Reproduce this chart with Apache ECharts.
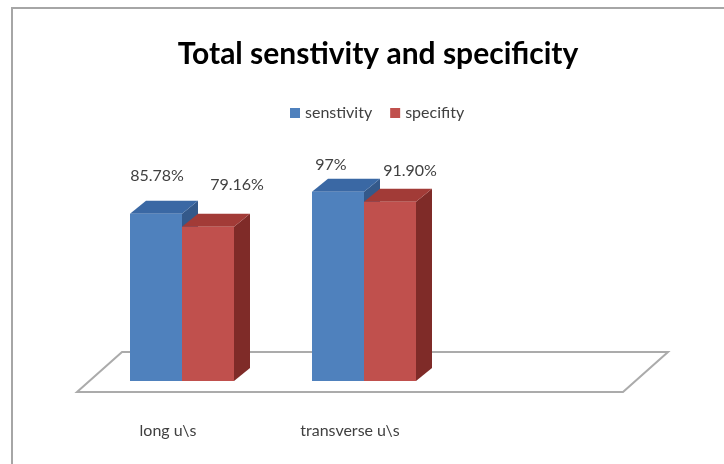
<!DOCTYPE html>
<html>
<head>
<meta charset="utf-8">
<script src="https://cdn.jsdelivr.net/npm/echarts@6/dist/echarts.min.js"></script>
<style>
  html, body { margin: 0; padding: 0; background: #fff; }
  #chart { width: 724px; height: 464px; }
</style>
</head>
<body>
<div id="chart"></div>
<script>
// Categories along the floor (third slot is left empty)
const categories = ['long u\\s', 'transverse u\\s', ''];
// Percentages as printed on the labels
const sensitivityText = ['85.78', '97'];
const specificityText = ['79.16', '91.90'];
const seriesNames = ['senstivity', 'specifity'];

// Label nudges (px) relative to the top-front centre of each bar
const labelNudge = [
  [[1, -38], [-7, -27]],
  [[29, -42], [20, -31]]
];

const FONT = "Lato, 'Open Sans', 'Liberation Sans', sans-serif";
const DEPTH_X = 16, DEPTH_Y = -13;
const faces = [
  { front: '#4F81BD', top: '#3A68A4', side: '#34598A' },
  { front: '#C0504D', top: '#A23B37', side: '#7F2B28' }
];

function barRenderer(si) {
  return function (params, api) {
    const cat = api.value(0);
    const val = api.value(1);
    const band = api.size([1, 0])[0];
    const w = band * 0.2857;
    const base = api.coord([cat, 0]);
    const top = api.coord([cat, val]);
    const x0 = base[0] + (si === 0 ? -w : 0);
    const x1 = x0 + w;
    const yb = base[1], yt = top[1];
    const c = faces[si];
    const nudge = labelNudge[si][params.dataIndex];
    const txt = (si === 0 ? sensitivityText : specificityText)[params.dataIndex] + '%';
    return {
      type: 'group',
      children: [
        { type: 'polygon', shape: { points: [[x1, yb], [x1 + DEPTH_X, yb + DEPTH_Y], [x1 + DEPTH_X, yt + DEPTH_Y], [x1, yt]] },
          style: { fill: c.side } },
        { type: 'polygon', shape: { points: [[x0, yt], [x0 + DEPTH_X, yt + DEPTH_Y], [x1 + DEPTH_X, yt + DEPTH_Y], [x1, yt]] },
          style: { fill: c.top } },
        { type: 'rect', shape: { x: x0, y: yt, width: w, height: yb - yt },
          style: { fill: c.front } },
        { type: 'text', x: (x0 + x1) / 2 + nudge[0], y: yt + nudge[1],
          style: { text: txt, fill: '#404040', font: '16px ' + FONT, align: 'center', verticalAlign: 'middle' } }
      ]
    };
  };
}

function floorRenderer(params, api) {
  const band = api.size([1, 0])[0];
  const first = api.coord([0, 0]);
  const last = api.coord([categories.length - 1, 0]);
  const L = first[0] - band / 2, R = last[0] + band / 2, y = first[1];
  return {
    type: 'polygon',
    shape: { points: [[L - 14, y + 11], [R - 14, y + 11], [R + 31, y - 29], [L + 31, y - 29]] },
    style: { fill: '#ffffff', stroke: '#ababab', lineWidth: 2 }
  };
}

const chart = echarts.init(document.getElementById('chart'), null, { renderer: 'canvas' });
chart.setOption({
  animation: false,
  backgroundColor: '#ffffff',
  title: {
    text: 'Total senstivity and specificity',
    left: 373, top: 34, textAlign: 'center',
    textStyle: { fontFamily: FONT, fontSize: 30, fontWeight: 'bold', color: '#000' }
  },
  legend: {
    data: seriesNames.map((n, i) => ({ name: n, icon: 'rect', itemStyle: { color: faces[i].front } })),
    left: 285, top: 100, itemWidth: 10, itemHeight: 10, itemGap: 18,
    textStyle: { fontFamily: FONT, fontSize: 16, color: '#404040' }
  },
  graphic: [
    { type: 'polyline', shape: { points: [[12, 464], [12, 8], [724, 8]] },
      style: { stroke: '#a6a6a6', lineWidth: 2, fill: null }, silent: true }
  ],
  grid: { left: 91, right: 87, top: 186, bottom: 83 },
  xAxis: {
    type: 'category', data: categories,
    axisLine: { show: false }, axisTick: { show: false },
    axisLabel: { margin: 42, padding: [0, 28, 0, 0], fontFamily: FONT, fontSize: 16, color: '#404040' }
  },
  yAxis: { type: 'value', min: 0, max: 100, show: false },
  series: [
    { type: 'custom', name: 'floor', renderItem: floorRenderer, data: [[0, 0]], silent: true, z: 1 },
    { type: 'custom', name: seriesNames[0], renderItem: barRenderer(0), z: 2,
      data: sensitivityText.map((t, i) => [i, parseFloat(t)]) },
    { type: 'custom', name: seriesNames[1], renderItem: barRenderer(1), z: 3,
      data: specificityText.map((t, i) => [i, parseFloat(t)]) }
  ]
});
</script>
</body>
</html>
